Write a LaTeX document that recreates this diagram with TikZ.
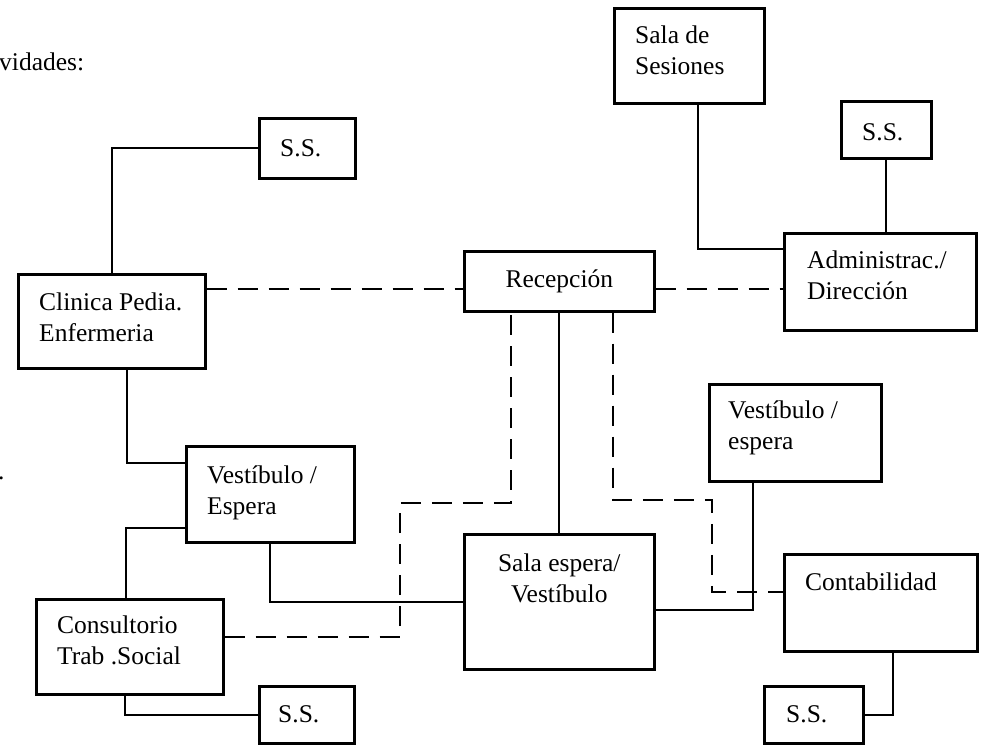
\documentclass[tikz,border=0pt]{standalone}
\usepackage{fontspec}
\setmainfont{Liberation Serif}
\usetikzlibrary{calc}

\begin{document}
\begin{tikzpicture}[x=1pt,y=-1pt,
    caja/.style={rectangle, draw, line width=2.6pt, inner sep=0pt, anchor=north west},
    rotulo/.style={inner sep=0pt, anchor=base west, align=left,
        font=\fontsize{25.5}{31}\selectfont},
    enlace/.style={line width=2pt},
    aviso/.style={line width=2pt, dash pattern=on 20pt off 11pt}]
    \useasboundingbox (0,0) rectangle (981,744);
    % cajas
    \node[caja, minimum width=96pt, minimum height=60pt] (ssA) at (258,117) {};
    \node[caja, minimum width=150pt, minimum height=95pt] (ses) at (613,7) {};
    \node[caja, minimum width=90pt, minimum height=57pt] (ssB) at (840,100) {};
    \node[caja, minimum width=192pt, minimum height=97pt] (adm) at (783,232) {};
    \node[caja, minimum width=190pt, minimum height=60pt] (rec) at (463,250) {};
    \node[caja, minimum width=187pt, minimum height=94pt] (cli) at (17,273) {};
    \node[caja, minimum width=168pt, minimum height=96pt] (vesA) at (185,445) {};
    \node[caja, minimum width=187pt, minimum height=95pt] (cons) at (35,598) {};
    \node[caja, minimum width=95pt, minimum height=57pt] (ssC) at (258,685) {};
    \node[caja, minimum width=190pt, minimum height=135pt] (sal) at (463,533) {};
    \node[caja, minimum width=172pt, minimum height=97pt] (vesB) at (708,383) {};
    \node[caja, minimum width=193pt, minimum height=97pt] (con) at (783,553) {};
    \node[caja, minimum width=99pt, minimum height=57pt] (ssD) at (763,685) {};
    % textos (en dos lineas: base de la ultima linea)
    \node[rotulo] (tit) at (-1,70) {vidades:};
    \node[rotulo] (pto) at (-2,479) {.};
    \node[rotulo] (ssAt) at ($(ssA.north west)+(22,39)$) {S.S.};
    \node[rotulo] (sest) at ($(ses.north west)+(22,67)$) {Sala de\\Sesiones};
    \node[rotulo] (ssBt) at ($(ssB.north west)+(22,40)$) {S.S.};
    \node[rotulo] (admt) at ($(adm.north west)+(24,67)$) {Administrac./\\Dirección};
    \node[rotulo, anchor=base] (rect) at ($(rec.north)+(0,37)$) {Recepción};
    \node[rotulo] (clit) at ($(cli.north west)+(22,68)$) {Clinica Pedia.\\Enfermeria};
    \node[rotulo] (vesAt) at ($(vesA.north west)+(22,69)$) {Vestíbulo /\\Espera};
    \node[rotulo] (const) at ($(cons.north west)+(22,66)$) {Consultorio\\Trab .Social};
    \node[rotulo] (ssCt) at ($(ssC.north west)+(20,37)$) {S.S.};
    \node[rotulo, anchor=base, align=center] (salt) at ($(sal.north)+(0,69)$) {Sala espera/\\Vestíbulo};
    \node[rotulo] (vesBt) at ($(vesB.north west)+(20,66)$) {Vestíbulo /\\espera};
    \node[rotulo] (cont) at ($(con.north west)+(22,37)$) {Contabilidad};
    \node[rotulo] (ssDt) at ($(ssD.north west)+(23,37)$) {S.S.};
    % puntos de quiebre
    \coordinate (q1) at (400,503);
    \coordinate (q2) at (712,500);
    % conexiones
    \draw[enlace] (ssA.west) -| (cli.north);
    \draw[enlace] ([xshift=9pt]ses.south) |- ([yshift=33pt]adm.west);
    \draw[enlace] (ssB.south) -- (ssB.south |- adm.north);
    \draw[enlace] ([xshift=15pt]cli.south) |- ([yshift=31pt]vesA.west);
    \draw[enlace] ([yshift=-34pt]vesA.west) -| ([xshift=-4pt]cons.north);
    \draw[enlace] (vesA.south) |- (sal.west);
    \draw[enlace] (rec.south) -- (sal.north);
    \draw[enlace] ([yshift=-8pt]sal.east) -| ([xshift=-42pt]vesB.south);
    \draw[enlace] ([xshift=12pt]con.south) |- (ssD.east);
    \draw[enlace] ([xshift=-5pt]cons.south) |- (ssC.west);
    \draw[aviso] ([yshift=-8pt]cli.east |- rec.west) -- ([yshift=-8pt]rec.west);
    \draw[aviso] ([yshift=-8pt]rec.east) -- ([yshift=-8pt]adm.west |- rec.east);
    \draw[aviso] ([yshift=10pt]cons.east) -| (q1) -| ([xshift=-48pt]rec.south);
    \draw[aviso] ([xshift=54pt]rec.south) |- (q2) |- ([yshift=11pt]con.west);
\end{tikzpicture}
\end{document}
